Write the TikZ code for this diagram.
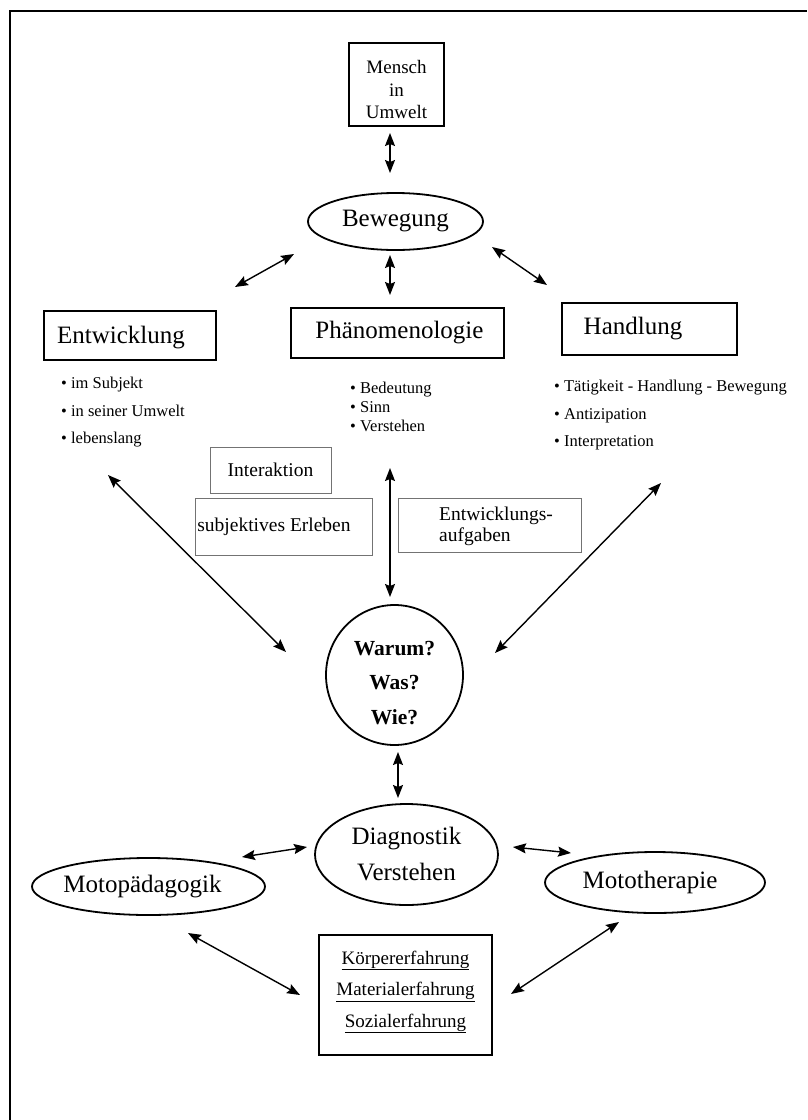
\documentclass[tikz,border=0pt]{standalone}
\usepackage{fontspec}
\setmainfont{Liberation Serif}
\usetikzlibrary{shapes.geometric,arrows.meta}
\begin{document}
\begin{tikzpicture}[x=1pt,y=-1pt,
  big/.style={font=\fontsize{25}{36}\selectfont},
  mid/.style={font=\fontsize{19.5}{22}\selectfont},
  small/.style={font=\fontsize{16.5}{27.5}\selectfont},
  heavybox/.style={draw, line width=2.2pt, inner sep=0pt},
  plainbox/.style={draw, line width=1.6pt, inner sep=0pt},
  greybox/.style={draw=black!55, line width=0.9pt, inner sep=0pt},
  oval/.style={draw, ellipse, line width=1.8pt, inner sep=0pt},
  tip/.style={},
  link/.style={line width=1.4pt, {Stealth[length=13pt,width=10pt,inset=2pt]}-{Stealth[length=13pt,width=10pt,inset=2pt]}},
  list/.style={anchor=west, align=left, inner sep=0pt}
]
\useasboundingbox (0,0) rectangle (807,1120);
% frame (top and left edges only)
\draw[line width=2.2pt] (10,1120) -- (10,11) -- (807,11);

% --- top part
\node[plainbox, minimum width=95pt, minimum height=83pt] (mensch) at (396.5,84.5) {};
\node[align=center, font=\fontsize{19}{22.5}\selectfont] (menschtxt) at (396.5,89.5) {Mensch\\in\\Umwelt};
\node[oval, minimum width=175pt, minimum height=57pt, big] (beweg) at (395.5,221.5) {Bewegung};

\node[heavybox, minimum width=172pt, minimum height=49pt,
      label={[big, xshift=-9pt, yshift=-2pt]center:Entwicklung}] (entw) at (130,335.5) {};
\node[heavybox, minimum width=213pt, minimum height=50pt,
      label={[big, xshift=2pt]center:Phänomenologie}] (phaen) at (397.5,333) {};
\node[heavybox, minimum width=175pt, minimum height=52pt,
      label={[big, xshift=-16.5pt]center:Handlung}] (handl) at (649.5,329) {};

% bullet lists
\node[list, small] (entwlist) at (61,412.5)
  {\textbullet\ im Subjekt\\\textbullet\ in seiner Umwelt\\\textbullet\ lebenslang};
\node[list, font=\fontsize{16.5}{19}\selectfont] (phaenlist) at (350,407)
  {\textbullet\ Bedeutung\\\textbullet\ Sinn\\\textbullet\ Verstehen};
\node[list, small] (handllist) at (554,415.5)
  {\textbullet\ Tätigkeit - Handlung - Bewegung\\\textbullet\ Antizipation\\\textbullet\ Interpretation};

% grey boxes
\node[greybox, minimum width=121pt, minimum height=46pt,
      label={[mid]center:Interaktion}] (inter) at (270.5,470) {};
\node[greybox, minimum width=177pt, minimum height=57pt,
      label={[mid, xshift=-9.5pt]center:subjektives Erleben}] (subj) at (283.5,526.5) {};
\node[greybox, minimum width=183pt, minimum height=54pt] (aufg) at (489.5,525) {};
\node[list, font=\fontsize{19.5}{21}\selectfont] (aufgtxt) at (439,526) {Entwicklungs-\\aufgaben};

% --- centre
\node[oval, minimum width=137pt, minimum height=140pt,
      label={[align=center, font=\fontsize{21.5}{34.5}\selectfont\bfseries, yshift=-8pt]center:Warum?\\Was?\\Wie?}] (warum) at (394.5,675) {};
\node[oval, minimum width=183pt, minimum height=101pt, align=center, big] (diag) at (406.5,854.5) {Diagnostik\\Verstehen};
\node[oval, minimum width=233pt, minimum height=57pt,
      label={[big, xshift=-6pt]center:Motopädagogik}] (motop) at (148.5,886.5) {};
\node[oval, minimum width=220pt, minimum height=61pt,
      label={[big, xshift=-5pt]center:Mototherapie}] (motot) at (655,882.5) {};

\node[plainbox, minimum width=173pt, minimum height=120pt] (koerper) at (405.5,995) {};
\node[align=center, font=\fontsize{19}{31.5}\selectfont] (koerpertxt) at (405.5,992)
  {\underline{Körpererfahrung}\\\underline{Materialerfahrung}\\\underline{Sozialerfahrung}};

% --- arrow end points
\coordinate (m1) at (390,133);  \coordinate (b1) at (390,173);
\coordinate (b2) at (294,254);  \coordinate (e2) at (235,287);
\coordinate (b3) at (390,255);  \coordinate (p3) at (390,295);
\coordinate (b4) at (492,247);  \coordinate (h4) at (547,285);
\coordinate (p5) at (390,468);  \coordinate (w5) at (390,597);
\coordinate (e6) at (108,475);  \coordinate (w6) at (286,652);
\coordinate (h7) at (661,483);  \coordinate (w7) at (495,653);
\coordinate (w8) at (398,752);  \coordinate (d8) at (398,798);
\coordinate (mp9) at (242,857); \coordinate (d9) at (307,847);
\coordinate (d10) at (513,847); \coordinate (mt10) at (571,853);
\coordinate (mp11) at (188,933); \coordinate (k11) at (300,995);
\coordinate (mt12) at (619,922); \coordinate (k12) at (511,994);

\draw[link] (m1) -- (b1);
\draw[link] (b2) -- (e2);
\draw[link] (b3) -- (p3);
\draw[link] (b4) -- (h4);
\draw[link] (p5) -- (w5);
\draw[link] (e6) -- (w6);
\draw[link] (h7) -- (w7);
\draw[link] (w8) -- (d8);
\draw[link] (mp9) -- (d9);
\draw[link] (d10) -- (mt10);
\draw[link] (mp11) -- (k11);
\draw[link] (mt12) -- (k12);
\end{tikzpicture}
\end{document}
